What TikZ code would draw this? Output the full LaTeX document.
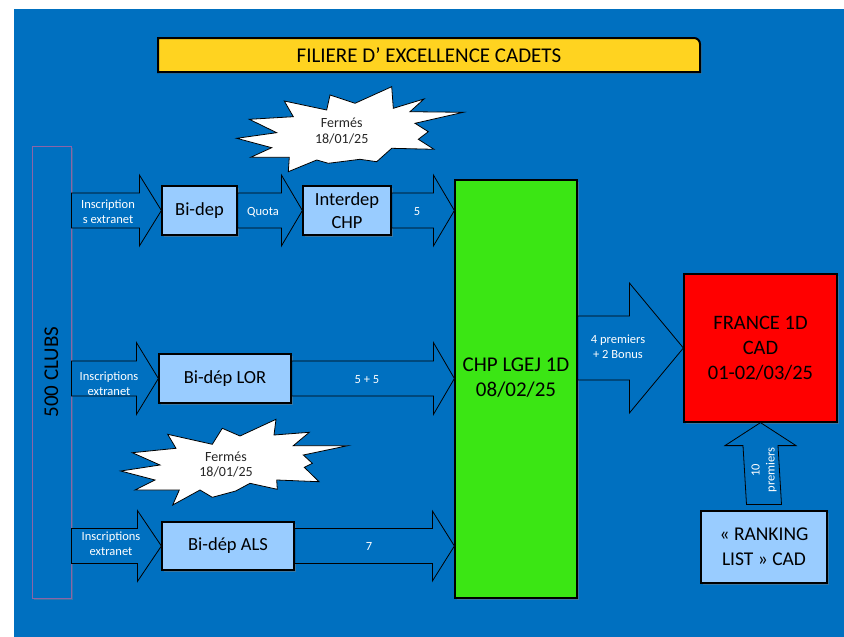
\documentclass[tikz,border=0pt]{standalone}
\usepackage{fontspec}
\setmainfont{Carlito}
\usetikzlibrary{calc,shadows}
\definecolor{bgblue}{HTML}{0070C0}
\definecolor{lightbox}{HTML}{99CCFF}
\definecolor{ttlyellow}{HTML}{FFD320}
\definecolor{chpgreen}{HTML}{3BE614}
\definecolor{clubpurple}{HTML}{8C64A8}
% horizontal block arrow: #1 start, #2 tip, #3 shaft half, #4 head half, #5 head length
\newcommand\harr[5]{\draw[barrow] ($(#1)+(0,-#3)$) -- ($(#2)+(-#5,-#3)$) -- ($(#2)+(-#5,-#4)$) -- (#2) -- ($(#2)+(-#5,#4)$) -- ($(#2)+(-#5,#3)$) -- ($(#1)+(0,#3)$) -- cycle;}
% vertical block arrow pointing up: #1 bottom, #2 tip
\newcommand\varr[5]{\draw[barrow] ($(#1)+(-#3,0)$) -- ($(#2)+(-#3,#5)$) -- ($(#2)+(-#4,#5)$) -- (#2) -- ($(#2)+(#4,#5)$) -- ($(#2)+(#3,#5)$) -- ($(#1)+(#3,0)$) -- cycle;}
\begin{document}
\begin{tikzpicture}[x=1pt,y=-1pt,
 box/.style={draw=black, line width=1.2pt, fill=lightbox, inner sep=0pt, align=center,
   font=\fontsize{18.5}{23}\selectfont,
   drop shadow={shadow xshift=1.5pt, shadow yshift=-1.5pt, opacity=0.45}},
 barrow/.style={draw=black, line width=0.8pt, fill=bgblue},
 lbl/.style={text=white, font=\fontsize{12.5}{15}\selectfont, align=center, inner sep=0pt},
 bigt/.style={font=\fontsize{20.5}{25}\selectfont, align=center},
 burst/.style={fill=white, draw=black, line width=0.8pt},
 bursttxt/.style={font=\fontsize{14}{15.5}\selectfont, align=center, inner sep=0pt, text=black!85}
 ]
\useasboundingbox (0,0) rectangle (844,637);
\fill[white] (0,0) rectangle (844,637);
\fill[bgblue] (14,9) rectangle (844,637);

% title
\draw[fill=ttlyellow, line width=2pt, drop shadow={shadow xshift=1.5pt, shadow yshift=-1.5pt, opacity=0.5}]
  (158,72) -- (158,38) [rounded corners=6pt] -- (700,38) [sharp corners] -- (700,72) -- cycle;
\node[font=\fontsize{21}{24}\selectfont] (title) at (429,55) {FILIERE D’ EXCELLENCE CADETS};

% clubs column
\node[draw=clubpurple, line width=0.8pt, fill=bgblue, minimum width=39, minimum height=452, inner sep=0pt,
  drop shadow={shadow xshift=1.5pt, shadow yshift=-1.5pt, opacity=0.4}] (clubs) at (51.5,372) {};
\node[rotate=90, font=\fontsize{21}{23}\selectfont, text=black] (clubstxt) at (clubs.center) {500 CLUBS};

% main boxes
\node[draw=black, line width=1.2pt, fill=chpgreen, minimum width=122, minimum height=418, inner sep=0pt,
  drop shadow={shadow xshift=1.5pt, shadow yshift=-1.5pt, opacity=0.45}] (green) at (516,389) {};
\node[bigt, font=\fontsize{21}{25}\selectfont] (greentxt) at (516,377.5) {CHP LGEJ 1D\\08/02/25};
\node[draw=black, line width=1.2pt, fill=red, minimum width=153, minimum height=148, inner sep=0pt, bigt,
  drop shadow={shadow xshift=1.5pt, shadow yshift=-1.5pt, opacity=0.45}] (red) at (760.5,348) {FRANCE 1D\\CAD\\01-02/03/25};
\node[box, minimum width=126, minimum height=72, font=\fontsize{19.5}{25}\selectfont] (rank) at (764,547) {« RANKING\\LIST » CAD};

\node[box, minimum width=75, minimum height=49] (bidep) at (199.5,210.5) {Bi-dep};
\node[box, minimum width=88, minimum height=49] (interdep) at (347,210.5) {Interdep\\CHP};
\node[box, minimum width=132, minimum height=49] (lor) at (225,378.5) {Bi-dép LOR};
\node[box, minimum width=132, minimum height=48] (als) at (228,546) {Bi-dép ALS};

% block arrows
\coordinate (s11) at (clubs.east |- bidep.west);
\harr{s11}{bidep.west}{17.5}{35.5}{22}
\harr{bidep.east}{interdep.west}{17.5}{35.5}{21}
\coordinate (t13) at (green.west |- interdep.east);
\harr{interdep.east}{t13}{17.5}{35.5}{21}

\coordinate (s21) at (clubs.east |- lor.west);
\harr{s21}{lor.west}{17.5}{36}{22}
\coordinate (t22) at (green.west |- lor.east);
\harr{lor.east}{t22}{17.5}{36}{21}

\coordinate (s31) at (clubs.east |- als.west);
\harr{s31}{als.west}{17.5}{35.5}{24}
\coordinate (t32) at (green.west |- als.east);
\harr{als.east}{t32}{17.5}{35}{22}

\coordinate (sr) at (green.east |- red.west);
\harr{sr}{red.west}{32}{65}{54}

\coordinate (ub) at ($(rank.north)+(0,-6)$);
\varr{ub}{red.south}{17.5}{35.5}{23}

% arrow labels
\node[lbl] (l11) at (108,211.5) {Inscription\\s extranet};
\node[lbl] (l12) at (263,212) {Quota};
\node[lbl] (l13) at (417,212) {5};
\node[lbl] (l21) at (109,383.5) {Inscriptions\\extranet};
\node[lbl] (l22) at (367,380) {5 + 5};
\node[lbl] (l31) at (111,544) {Inscriptions\\extranet};
\node[lbl] (l32) at (369,546) {7};
\node[lbl] (lr) at (618,347) {4 premiers\\+ 2 Bonus};
\node[lbl, rotate=90] (lu) at (764,470) {10\\premiers};

% bursts
\draw[burst] (284.3,101) -- (293.3,116.7) -- (249.3,119.3) -- (276.7,132.7) -- (236.7,138.3) -- (271.7,147.7)
 -- (250.7,157.3) -- (289.3,157.3) -- (288.3,171.7) -- (316.7,160) -- (328.3,163.3) -- (360,159.3)
 -- (376.7,161.7) -- (391.7,148.3) -- (434,149.3) -- (418.3,139.3) -- (428.3,131.7) -- (415,123.3)
 -- (463.3,112.3) -- (410,111.7) -- (424,99) -- (393.3,108.3) -- (391.7,86.7) -- (355,103.3)
 -- (330,95) -- (326.7,110) -- cycle;
\node[bursttxt] (f1) at (341.7,131) {Fermés\\18/01/25};

\draw[burst] (167.7,434.3) -- (212.3,444.3) -- (222.3,428.3) -- (240,436) -- (276,419.3) -- (274,435)
 -- (309.3,432.3) -- (293.3,445.7) -- (347.7,445.7) -- (303.3,455) -- (312.3,463.3) -- (304.3,467.3)
 -- (319,481.7) -- (276.7,480) -- (277.3,489.3) -- (250,483.3) -- (235.7,491) -- (212.3,497.3)
 -- (200,490) -- (172.7,505) -- (179.3,490) -- (135,490) -- (155,480) -- (120.7,471) -- (160,465)
 -- (132.3,452.7) -- (176,448.3) -- cycle;
\node[bursttxt] (f2) at (226,464.5) {Fermés\\18/01/25};
\end{tikzpicture}
\end{document}
